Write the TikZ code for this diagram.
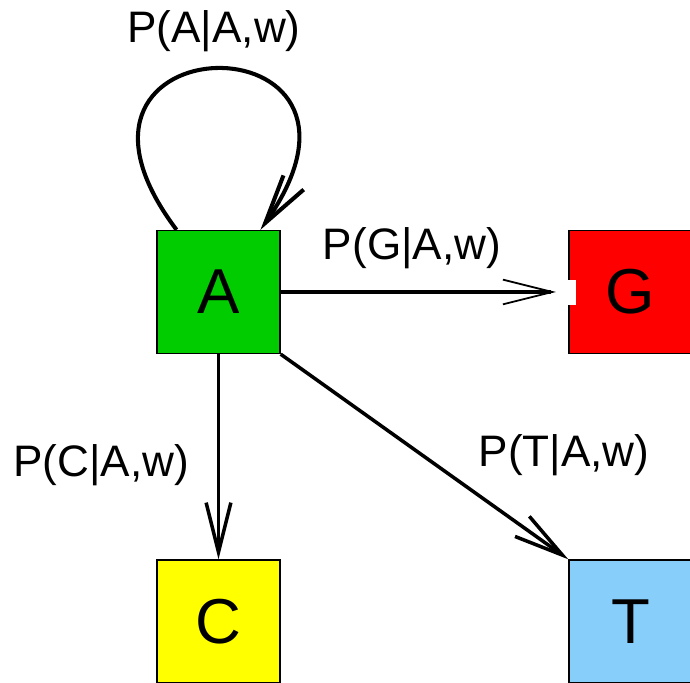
\documentclass[tikz,border=0pt]{standalone}
\usepackage{fontspec}
\setmainfont{Liberation Sans}
\usetikzlibrary{arrows.meta}
\definecolor{baseA}{RGB}{0,204,0}
\definecolor{baseG}{RGB}{255,0,0}
\definecolor{baseC}{RGB}{255,255,0}
\definecolor{baseT}{RGB}{135,206,250}

\begin{document}
\begin{tikzpicture}[x=0.5669pt,y=0.5669pt,>={Straight Barb[length=28pt,width=14pt]},line width=2pt]
  \tikzset{base/.style={draw,line width=0.8pt,minimum size=69.7pt,inner sep=0pt,font=\fontsize{36}{40}\selectfont},
           prob/.style={inner sep=0pt,font=\fontsize{25}{30}\selectfont}}
  \useasboundingbox (0,0) rectangle (690,683);
  \clip (0,0) rectangle (690,683);
  \node[base,fill=baseA] (A) at (218.5,391)  {A};
  \node[base,fill=baseG] (G) at (630.5,391)  {G};
  \node[base,fill=baseC] (C) at (218.5,61.5) {C};
  \node[base,fill=baseT] (T) at (630.5,61.5) {T};
  \fill[white] (566.5,378) rectangle (576,403);
  \node[prob] (pA) at (214,652) {P(A|A,w)};
  \node[prob] (pG) at (412,435) {P(G|A,w)};
  \node[prob] (pC) at (101,218) {P(C|A,w)};
  \node[prob] (pT) at (564,228) {P(T|A,w)};
  \draw[->,line width=2.3pt] (A.124) .. controls +(127:265) and +(55:265) .. (A.56);
  \path[-{Straight Barb[length=28pt,width=14pt,line width=1pt]}] (A) edge[shorten >=7pt] (G);
  \path[->] (A) edge (C)
            (A.south east) edge (T.north west);
\end{tikzpicture}
\end{document}
